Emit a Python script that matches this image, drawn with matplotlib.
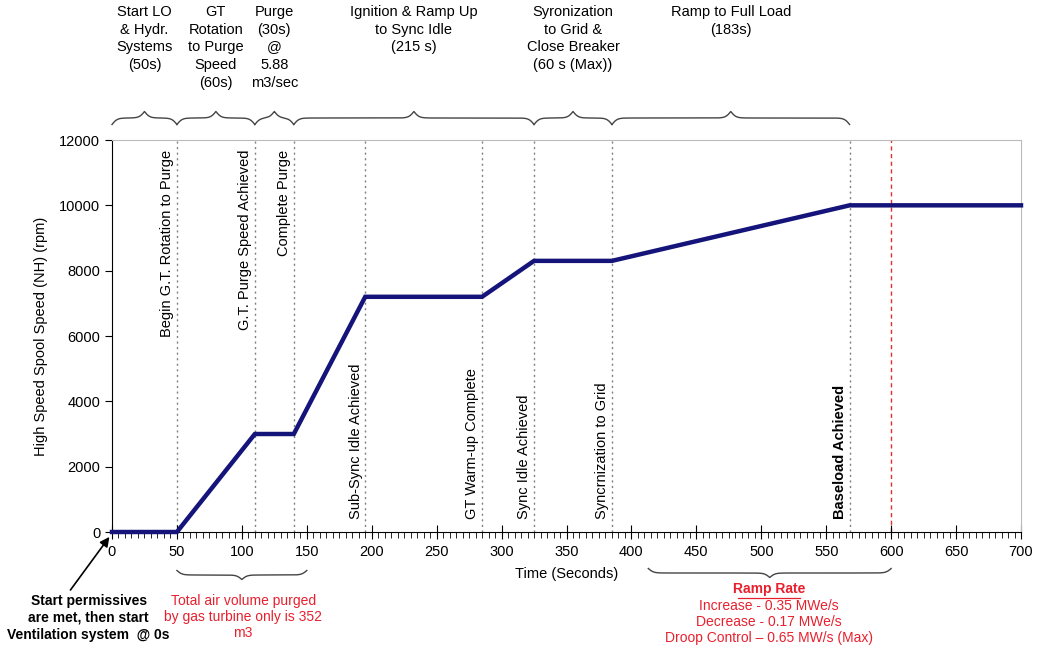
import numpy as np
import matplotlib
matplotlib.use("Agg")
import matplotlib.pyplot as plt
from matplotlib.transforms import blended_transform_factory
from matplotlib.ticker import MultipleLocator

plt.rcParams['font.family'] = ['Liberation Sans', 'DejaVu Sans']

# ---- data ----
time_s = [0, 50, 110, 140, 195, 285, 325, 385, 568, 700]
speed_rpm = [0, 0, 3000, 3000, 7200, 7200, 8300, 8300, 10000, 10000]

event_times = [50, 110, 140, 195, 285, 325, 385, 568]
event_labels = ["Begin G.T. Rotation to Purge", "G.T. Purge Speed Achieved",
                "Complete Purge", "Sub-Sync Idle Achieved", "GT Warm-up Complete",
                "Sync Idle Achieved", "Syncrnization to Grid", "Baseload Achieved"]
event_top = [True, True, True, False, False, False, False, False]
limit_time = 600

phase_bounds = [(0, 50), (50, 110), (110, 140), (140, 325), (325, 385), (385, 568)]
phase_labels = ["Start LO\n& Hydr.\nSystems\n(50s)",
                "GT\nRotation\nto Purge\nSpeed\n(60s)",
                "Purge\n(30s)\n@\n5.88\nm3/sec",
                "Ignition & Ramp Up\nto Sync Idle\n(215 s)",
                "Syronization\nto Grid &\nClose Breaker\n(60 s (Max))",
                "Ramp to Full Load\n(183s)"]

x_ticks = list(range(0, 701, 50))
y_ticks = list(range(0, 12001, 2000))

W, H = 1038, 651
fig = plt.figure(figsize=(W / 100, H / 100), dpi=100)
ax = fig.add_axes([112 / W, 1 - 532 / H, (1021 - 112) / W, (532 - 140) / H])

navy = "#14147a"
red = "#e8202e"

ax.plot(time_s, speed_rpm, color=navy, lw=3.2, solid_joinstyle='miter', zorder=3, clip_on=False)

for t, lab, top in zip(event_times, event_labels, event_top):
    ax.axvline(t, color="#808080", lw=1.0, ls=(0, (1.5, 2.5)), zorder=1)
    bold = "bold" if lab.startswith("Baseload") else "normal"
    if top:
        ax.text(t - 2, 11700, lab, rotation=90, ha='right', va='top', fontsize=10.5, fontweight=bold)
    else:
        ax.text(t - 2, 400, lab, rotation=90, ha='right', va='bottom', fontsize=10.5, fontweight=bold)
ax.axvline(limit_time, color="#e03030", lw=1.0, ls=(0, (3, 2.5)), zorder=1)

ax.set_xlim(0, 700)
ax.set_ylim(0, 12000)
ax.set_xticks(x_ticks)
ax.set_yticks(y_ticks)
ax.xaxis.set_minor_locator(MultipleLocator(5))
ax.tick_params(axis='x', which='major', direction='inout', length=10, labelsize=10.5, pad=4)
ax.tick_params(axis='x', which='minor', direction='out', length=4)
ax.tick_params(axis='y', which='major', direction='out', length=5, labelsize=10.5)
for s in ['top', 'right']:
    ax.spines[s].set_color('#bbbbbb')
ax.set_xlabel("Time (Seconds)", fontsize=10.5, labelpad=6)
ax.set_ylabel("High Speed Spool Speed (NH) (rpm)", fontsize=10.5, labelpad=8)

# ---- braces ----
tr = blended_transform_factory(ax.transData, fig.transFigure)

def brace(x0, x1, ybase_px, amp_px, up=True, beta=0.5, color='#444444'):
    n = 601
    x = np.linspace(x0, x1, n)
    half = x[: n // 2 + 1]
    yh = 1 / (1 + np.exp(-beta * (half - half[0]))) + 1 / (1 + np.exp(-beta * (half - half[-1])))
    yy = np.concatenate((yh, yh[-2::-1]))
    sign = 1 if up else -1
    ypx = ybase_px - sign * (yy - 1) * amp_px
    ax.plot(x, 1 - ypx / H, transform=tr, color=color, lw=1.0, clip_on=False)

for (a, b), lab in zip(phase_bounds, phase_labels):
    brace(a, b, 118, 13, up=True)
    ax.text((a + b) / 2, 1 - 5 / H, lab, transform=tr, ha='center', va='top',
            fontsize=10.5, linespacing=1.33)

brace(50, 150, 575, 9, up=False)
brace(413, 600, 573, 9, up=False)

ax.text(101, 1 - 594 / H, "Total air volume purged\nby gas turbine only is 352\nm3",
        transform=tr, ha='center', va='top', color=red, fontsize=10, linespacing=1.2)

ax.text(506, 1 - 582 / H, "Ramp Rate", transform=tr, ha='center', va='top', color=red,
        fontsize=10, fontweight='bold')
ax.plot([482, 530], [1 - 598 / H] * 2, transform=tr, color=red, lw=0.9, clip_on=False)
ax.text(506, 1 - 599 / H, "Increase - 0.35 MWe/s\nDecrease - 0.17 MWe/s\nDroop Control \u2013 0.65 MW/s (Max)",
        transform=tr, ha='center', va='top', color=red, fontsize=10, linespacing=1.2)

ax.text(-18, 1 - 594 / H, "Start permissives\nare met, then start\nVentilation system  @ 0s",
        transform=tr, ha='center', va='top', fontsize=10, fontweight='bold', linespacing=1.25)
ax.annotate("", xy=(-2, -150), xycoords='data',
            xytext=(-32, 1 - 590 / H), textcoords=tr,
            annotation_clip=False,
            arrowprops=dict(arrowstyle='-|>', color='black', lw=1.2,
                            shrinkA=0, shrinkB=0, mutation_scale=14))

fig.savefig("out.png", dpi=100)
